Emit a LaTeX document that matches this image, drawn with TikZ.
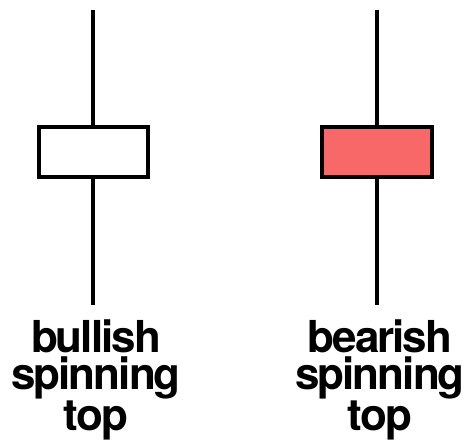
\documentclass[tikz,border=0pt]{standalone}
\usepackage{fontspec}
\setmainfont{TeX Gyre Heros}
\usepackage{tikz}
\usetikzlibrary{positioning}
\definecolor{bearred}{HTML}{F96868}
\tikzset{
	wick/.style={line width=4pt, black},
	candlebody/.style={draw=black, line width=4pt, rectangle, inner sep=0pt,
		minimum width=109pt, minimum height=50pt},
	caption/.style={align=center, inner sep=0pt,
		font=\bfseries\addfontfeature{LetterSpace=-4.5}\fontsize{44}{37}\selectfont}
}

\begin{document}
\begin{tikzpicture}[x=1pt, y=-1pt]
	\useasboundingbox (0,0) rectangle (471,442);

	% bullish
	\coordinate (bulltop) at (93,10);
	\coordinate (bullbot) at (93,305);
	\node[candlebody, fill=white] (bullbody) at (93,152) {};
	\draw[wick] (bulltop) -- (bullbody.north);
	\draw[wick] (bullbody.south) -- (bullbot);
	\node[caption] (bulltext) at (96,380) {bullish\\spinning\\top};

	% bearish
	\coordinate (beartop) at (377,10);
	\coordinate (bearbot) at (377,305);
	\node[candlebody, fill=bearred, minimum width=110pt] (bearbody) at (377,152) {};
	\draw[wick] (beartop) -- (bearbody.north);
	\draw[wick] (bearbody.south) -- (bearbot);
	\node[caption] (beartext) at (380,380) {bearish\\spinning\\top};

\end{tikzpicture}
\end{document}
